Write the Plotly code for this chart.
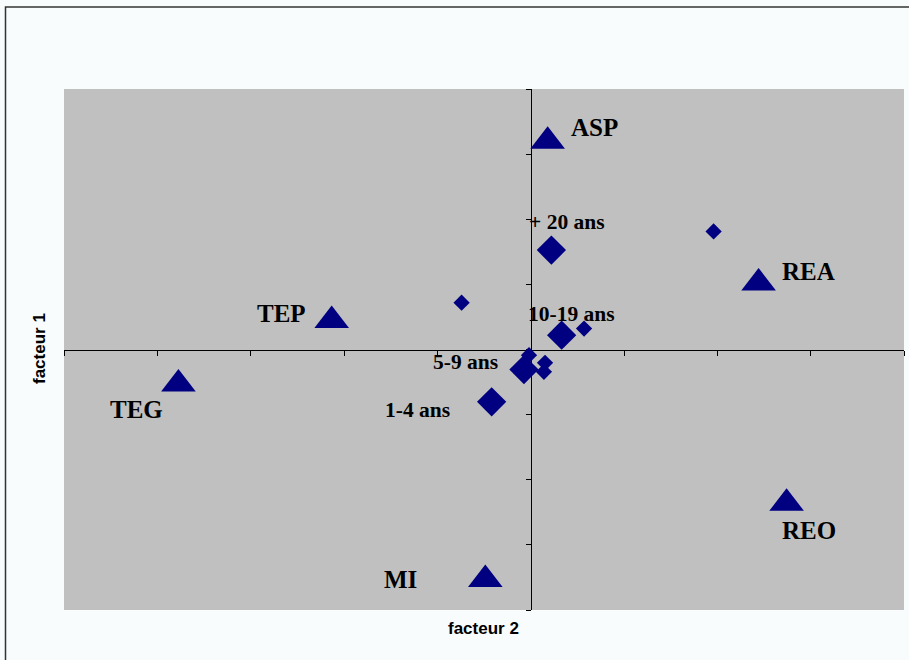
import plotly.graph_objects as go

# ---- data ----
tri_names = ["ASP", "REA", "TEP", "TEG", "REO", "MI"]
tri_x = [0.091, 1.221, -1.066, -1.887, 1.371, -0.243]
tri_y = [1.598, 0.510, 0.223, -0.264, -1.181, -1.765]

age_names = ["+ 20 ans", "10-19 ans", "5-9 ans", "1-4 ans"]
age_x = [0.111, 0.166, -0.036, -0.209]
age_y = [0.763, 0.110, -0.154, -0.402]

small_x = [0.980, -0.370, 0.286, -0.009, 0.077, 0.071]
small_y = [0.906, 0.359, 0.161, -0.044, -0.102, -0.171]

x_title = "facteur 2"
y_title = "facteur 1"

# ---- styling ----
NAVY = "#000080"
W, H = 909, 660
L, R, T, B = 64, 5, 89, 50
PW, PH = W - L - R, H - T - B

tri_off = [(46.5, -16), (50, -13.6), (-50.5, -8.7), (-41.7, 23.6), (22.3, 24.7), (-84.4, -2.3)]
age_off = [(16, -29.7), (10, -23), (-58.6, -9.3), (-74, 6.4)]

fig = go.Figure()
fig.add_trace(go.Scatter(x=tri_x, y=tri_y, mode="markers",
                         marker=dict(symbol="triangle-up", size=30, color=NAVY, line=dict(width=0)),
                         hoverinfo="skip"))
fig.add_trace(go.Scatter(x=age_x, y=age_y, mode="markers",
                         marker=dict(symbol="diamond", size=22.5, color=NAVY, line=dict(width=0)),
                         hoverinfo="skip"))
fig.add_trace(go.Scatter(x=small_x, y=small_y, mode="markers",
                         marker=dict(symbol="diamond", size=12.5, color=NAVY, line=dict(width=0)),
                         hoverinfo="skip"))

serif = "Liberation Serif, Times New Roman, serif"
for name, x, y, (dx, dy) in zip(tri_names, tri_x, tri_y, tri_off):
    fig.add_annotation(x=x, y=y, xref="x", yref="y", text="<b>%s</b>" % name, showarrow=False,
                       xshift=dx, yshift=-(dy + 2), font=dict(family=serif, size=25, color="black"))
for name, x, y, (dx, dy) in zip(age_names, age_x, age_y, age_off):
    fig.add_annotation(x=x, y=y, xref="x", yref="y", text="<b>%s</b>" % name, showarrow=False,
                       xshift=dx, yshift=-(dy + 2), font=dict(family=serif, size=21.5, color="black"))

sans = "Liberation Sans, Arial, sans-serif"
fig.add_annotation(x=(483 - L) / PW, y=(T + PH - 628) / PH, xref="paper", yref="paper",
                   text="<b>%s</b>" % x_title, showarrow=False, xanchor="center", yanchor="middle",
                   font=dict(family=sans, size=17, color="black"))
fig.add_annotation(x=(39 - L) / PW, y=(T + PH - 349) / PH, xref="paper", yref="paper",
                   text="<b>%s</b>" % y_title, showarrow=False, textangle=-90,
                   xanchor="center", yanchor="middle",
                   font=dict(family=sans, size=17, color="black"))

# outer frame
fig.add_shape(type="rect", xref="paper", yref="paper",
              x0=(5.5 - L) / PW, x1=(W + 5 - L) / PW,
              y0=(T + PH - (H + 5)) / PH, y1=(T + PH - 7) / PH,
              line=dict(color="#333333", width=1.5), fillcolor="rgba(0,0,0,0)", layer="below")

xr = [-2.5, 2.0]
yr = [-2.0, 2.0]
fig.update_layout(
    width=W, height=H, margin=dict(l=L, r=R, t=T, b=B),
    paper_bgcolor="#F8FCFC", plot_bgcolor="#C0C0C0",
    showlegend=False,
    xaxis=dict(range=xr, dtick=0.5, tick0=0, anchor="free", position=0.5,
               showgrid=False, zeroline=False, showline=True, linecolor="black", linewidth=1,
               ticks="outside", ticklen=5, tickcolor="black", tickwidth=1,
               showticklabels=False, layer="below traces", fixedrange=True),
    yaxis=dict(range=yr, dtick=0.5, tick0=0, anchor="free", position=(0 - xr[0]) / (xr[1] - xr[0]),
               showgrid=False, zeroline=False, showline=True, linecolor="black", linewidth=1,
               ticks="outside", ticklen=5, tickcolor="black", tickwidth=1,
               showticklabels=False, layer="below traces", fixedrange=True),
)

fig.write_html("out.html", config={"displayModeBar": False},
               post_script="document.body.style.margin='0';document.body.style.overflow='hidden';")
